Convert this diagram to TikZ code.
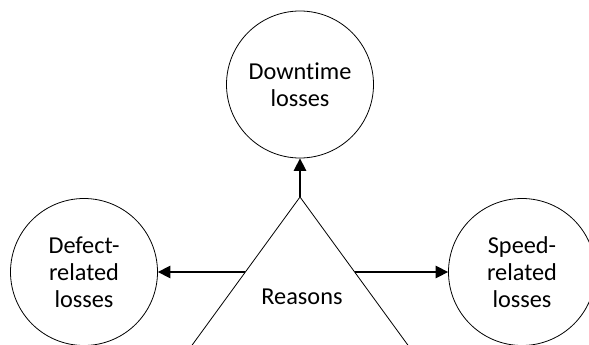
\documentclass[tikz,border=0pt]{standalone}
\usepackage{fontspec}
\setmainfont{Carlito}[Ligatures=NoCommon]
\usetikzlibrary{arrows.meta}
\begin{document}
\begin{tikzpicture}[x=1pt,y=-1pt,
  loss/.style={circle,draw,line width=0.8pt,minimum size=147pt,inner sep=0pt,align=center,font=\fontsize{24.3}{27}\selectfont},
  conn/.style={line width=1.5pt,-{Triangle[length=12.5pt,width=12.5pt]}},
  tri/.style={line width=0.8pt}]
\useasboundingbox (0,0) rectangle (589,345);
\node[loss] (down) at (300,84.5) {Downtime\\losses};
\node[loss] (defect) at (84,272) {Defect-\\related\\losses};
\node[loss] (speed) at (522,272) {Speed-\\related\\losses};
\coordinate (apex) at (300,197);
\coordinate (bl) at (190,348);
\coordinate (br) at (410,348);
\coordinate (lm) at (245,272);
\coordinate (rm) at (355,272);
\draw[tri] (bl) -- (apex) -- (br);
\node[font=\fontsize{24.3}{27}\selectfont] (reasons) at (302,297) {Reasons};
\draw[conn] (apex) -- (down.south);
\draw[conn] (lm) -- (defect.east);
\draw[conn] (rm) -- (speed.west);
\end{tikzpicture}
\end{document}
